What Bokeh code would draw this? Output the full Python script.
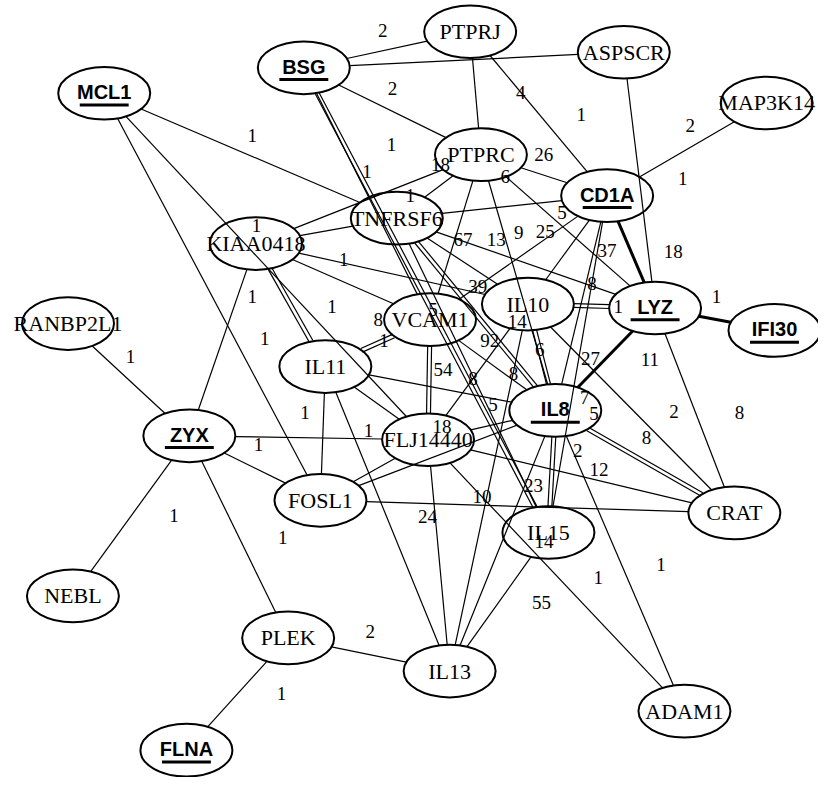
import math
from bokeh.plotting import figure
from bokeh.models import Range1d, ColumnDataSource
from bokeh.core.properties import value
from bokeh.embed import file_html
from bokeh.resources import INLINE

# ---------------- data ----------------
node_names = ["PTPRJ", "BSG", "ASPSCR", "MCL1", "MAP3K14", "PTPRC", "CD1A",
              "TNFRSF6", "KIAA0418", "RANBP2L1", "VCAM1", "IL10", "LYZ",
              "IFI30", "IL11", "ZYX", "FLJ14440", "IL8", "FOSL1", "CRAT",
              "IL15", "NEBL", "PLEK", "IL13", "ADAM1", "FLNA"]
# network layout (reference picture coordinates)
node_x = [480, 310, 637, 106, 783, 491, 620, 405, 261, 69, 439, 539, 669,
          791, 332, 193, 437, 567, 327, 750, 560, 74, 294, 459, 699, 190]
node_y = [32, 69, 53, 95, 105, 158, 200, 223, 249, 331, 327, 311, 315,
          338, 375, 446, 450, 420, 512, 525, 545, 610, 653, 687, 728, 768]
highlighted = ["BSG", "MCL1", "CD1A", "LYZ", "IFI30", "ZYX", "IL8", "FLNA"]

# edges: source, target, kind (s single, d double, t thick)
edge_src = ["BSG", "BSG", "BSG", "PTPRJ", "PTPRJ", "ASPSCR", "MAP3K14", "CD1A",
            "LYZ", "PTPRC", "PTPRC", "PTPRC", "PTPRC", "PTPRC", "PTPRC", "CD1A",
            "CD1A", "CD1A", "CD1A", "CD1A", "MCL1", "MCL1", "MCL1", "BSG", "BSG",
            "TNFRSF6", "KIAA0418", "KIAA0418", "KIAA0418", "KIAA0418", "TNFRSF6",
            "TNFRSF6", "TNFRSF6", "TNFRSF6", "IL10", "IL10", "IL10", "IL10", "IL10",
            "VCAM1", "VCAM1", "VCAM1", "IL11", "IL11", "IL11", "IL11", "ZYX", "ZYX",
            "ZYX", "ZYX", "ZYX", "PLEK", "PLEK", "FOSL1", "FOSL1", "FOSL1",
            "FLJ14440", "FLJ14440", "FLJ14440", "FLJ14440", "IL8", "LYZ", "LYZ",
            "IL8", "IL8", "IL8", "IL15"]
edge_dst = ["PTPRJ", "ASPSCR", "PTPRC", "PTPRC", "CD1A", "LYZ", "CD1A", "LYZ",
            "IFI30", "CD1A", "TNFRSF6", "KIAA0418", "VCAM1", "IL8", "LYZ", "TNFRSF6",
            "VCAM1", "IL10", "IL15", "IL8", "TNFRSF6", "FOSL1", "FLJ14440", "IL15",
            "VCAM1", "KIAA0418", "IL10", "VCAM1", "IL11", "ZYX", "IL8", "LYZ",
            "IL15", "IL10", "LYZ", "IL8", "IL13", "FLJ14440", "CRAT", "FLJ14440",
            "IL8", "IL11", "IL8", "FOSL1", "IL13", "FLJ14440", "FLJ14440", "FOSL1",
            "NEBL", "PLEK", "RANBP2L1", "FLNA", "IL13", "CRAT", "FLJ14440", "IL8",
            "IL13", "ADAM1", "IL8", "CRAT", "CRAT", "CRAT", "IL8", "IL15", "IL13",
            "ADAM1", "IL13"]
edge_kind = ["s", "s", "s", "s", "s", "s", "s", "t", "t", "s", "s", "s", "s", "s",
             "s", "s", "s", "s", "s", "s", "s", "s", "s", "d", "s", "s", "s", "s",
             "d", "s", "d", "s", "s", "s", "d", "d", "s", "s", "s", "d", "s", "d",
             "s", "s", "s", "s", "s", "s", "s", "s", "s", "s", "s", "s", "s", "s",
             "s", "s", "s", "s", "d", "s", "t", "d", "s", "s", "s"]

# edge weight labels: edge index, text
label_edge = [0, 2, 2, 4, 5, 6, 6, 7, 8, 9, 10, 11, 11, 12, 12, 13, 13, 14, 15,
              16, 16, 18, 19, 19, 20, 23, 26, 27, 27, 28, 29, 30, 32, 34, 35,
              36, 37, 38, 39, 39, 40, 41, 43, 46, 46, 48, 49, 50, 51, 52, 56,
              57, 57, 59, 60, 60, 61, 61, 62, 63, 65, 65, 66, 66]
label_text = ["2", "2", "1", "4", "1", "2", "1", "18", "1", "26", "1", "18", "1",
              "67", "5", "13", "9", "6", "5", "25", "39", "8", "37", "7", "1", "1",
              "1", "1", "8", "1", "1", "8", "5", "1", "6", "14", "8", "2", "54",
              "18", "92", "1", "1", "1", "1", "1", "1", "1", "1", "2", "24", "10",
              "1", "12", "8", "5", "11", "8", "27", "23", "2", "1", "55", "14"]
# placement of each label: fraction along its edge, perpendicular offset
label_t = [0.5, 0.45, 0.57, 0.37, 0.22, 0.42, 0.60, 0.63, 0.48, 0.45, 0.77, 0.17,
           0.97, 0.5, 0.94, 0.32, 0.32, 0.14, 0.22, 0.33, 0.73, 0.26, 0.24, 0.91,
           0.48, 0.23, 0.32, 0.50, 0.75, 0.62, 0.25, 0.78, 0.60, 0.71, 0.43, 0.05,
           0.55, 0.61, 0.41, 0.89, 0.39, 0.44, 0.35, 0.29, 0.75, 0.37, 0.59, 0.59,
           0.30, 0.48, 0.33, 0.21, 0.58, 0.55, 0.45, 0.17, 0.21, 0.58, 0.57, 0.62,
           0.14, 0.56, 0.36, 0.06]
label_d = [-20, -21, 31, 0, 51, 19, -24, -40, -23, -20, 10, 6, 17, -8, 0, 9, -15,
           0, -12, 6, 0, 0, -13, -26, -20, -8, -4, 28, 21, 40, -14, 9, -6, 0, 0, 7,
           0, -29, -14, -14, -19, 0, 19, 8, -8, -35, -40, 19, -33, -23, 8, 0, -30,
           -11, -22, -17, 24, -42, 11, 18, -5, -37, -36, -2]

# ---------------- geometry ----------------
ELL_W, ELL_H = 94, 54
pos = {n: (x, y) for n, x, y in zip(node_names, node_x, node_y)}


def clip_frac(vx, vy):
    a, b = ELL_W / 2.0, ELL_H / 2.0
    return 1.0 / math.sqrt((vx / a) ** 2 + (vy / b) ** 2)


seg = {"s": dict(x0=[], y0=[], x1=[], y1=[]),
       "t": dict(x0=[], y0=[], x1=[], y1=[])}
for s, t, k in zip(edge_src, edge_dst, edge_kind):
    (ax, ay), (bx, by) = pos[s], pos[t]
    vx, vy = bx - ax, by - ay
    f = clip_frac(vx, vy)
    sx, sy = ax + f * vx, ay + f * vy
    ex, ey = bx - f * vx, by - f * vy
    L = math.hypot(vx, vy)
    nx, ny = -vy / L, vx / L
    offs = [-2.0, 2.0] if k == "d" else [0.0]
    tgt = seg["t"] if k == "t" else seg["s"]
    for o in offs:
        tgt["x0"].append(sx + o * nx)
        tgt["y0"].append(sy + o * ny)
        tgt["x1"].append(ex + o * nx)
        tgt["y1"].append(ey + o * ny)

lx, ly = [], []
for ei, tt, dd in zip(label_edge, label_t, label_d):
    (ax, ay), (bx, by) = pos[edge_src[ei]], pos[edge_dst[ei]]
    vx, vy = bx - ax, by - ay
    L = math.hypot(vx, vy)
    nx, ny = -vy / L, vx / L
    lx.append(ax + tt * vx + dd * nx)
    ly.append(ay + tt * vy + dd * ny)

# ---------------- figure ----------------
p = figure(width=818, height=777, x_range=Range1d(0, 836), y_range=Range1d(796, 0),
           output_backend="svg", toolbar_location=None, tools="", min_border=0)
p.axis.visible = False
p.grid.visible = False
p.outline_line_color = None
p.background_fill_color = "white"
p.border_fill_color = "white"

p.segment(source=ColumnDataSource(seg["s"]), x0="x0", y0="y0", x1="x1", y1="y1",
          line_color="black", line_width=1.2)
p.segment(source=ColumnDataSource(seg["t"]), x0="x0", y0="y0", x1="x1", y1="y1",
          line_color="black", line_width=3)

p.ellipse(x=node_x, y=node_y, width=ELL_W, height=ELL_H, fill_color=None,
          line_color="black", line_width=2)

plain = [i for i, n in enumerate(node_names) if n not in highlighted]
bold = [i for i, n in enumerate(node_names) if n in highlighted]

p.text(x=[node_x[i] for i in plain], y=[node_y[i] for i in plain],
       text=[node_names[i] for i in plain], text_align="center",
       text_baseline="middle", text_font=value("Liberation Serif"),
       text_font_size="22px", text_color="black")
p.text(x=[node_x[i] for i in bold], y=[node_y[i] - 1 for i in bold],
       text=[node_names[i] for i in bold], text_align="center",
       text_baseline="middle", text_font=value("Liberation Sans"),
       text_font_style="bold", text_font_size="20px", text_color="black")
p.segment(x0=[node_x[i] - 25 for i in bold], x1=[node_x[i] + 25 for i in bold],
          y0=[node_y[i] + 12 for i in bold], y1=[node_y[i] + 12 for i in bold],
          line_color="black", line_width=3)

p.text(x=lx, y=ly, text=label_text, text_align="center", text_baseline="middle",
       text_font=value("Liberation Serif"), text_font_size="19px",
       text_color="black")

open("out.html", "w").write(file_html(p, INLINE))
